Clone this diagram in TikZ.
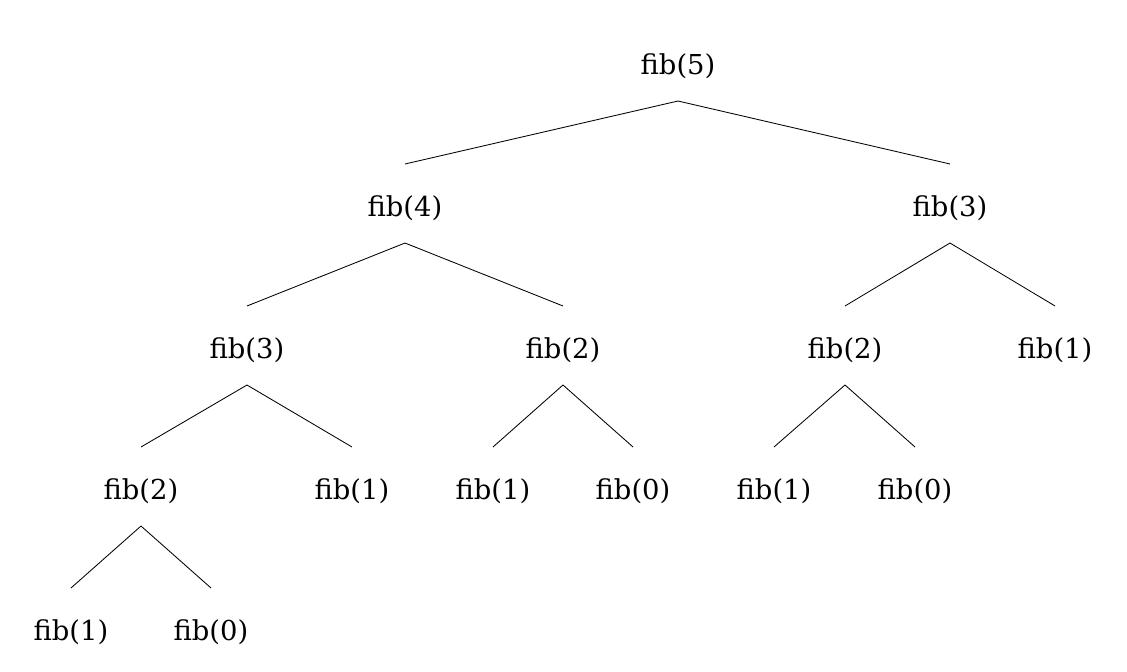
\documentclass[tikz,border=0pt]{standalone}
\usepackage{fontspec}
\setmainfont{DejaVu Serif}
\begin{document}
\begin{tikzpicture}[x=0.025cm,y=-0.025cm,
  call/.style={font=\fontsize{19.5}{23}\selectfont, inner sep=0pt},
  link/.style={line width=0.6pt}]
  \useasboundingbox (0,0) rectangle (1127,672);
  % Level 0
  \node[call] (r) at (678,66) {fib(5)};
  % Level 1
  \node[call] (a) at (405,208) {fib(4)};
  \node[call] (b) at (950,208) {fib(3)};
  % Level 2
  \node[call] (aa) at (247,350) {fib(3)};
  \node[call] (ab) at (563,350) {fib(2)};
  \node[call] (ba) at (845,350) {fib(2)};
  \node[call] (bb) at (1055,350) {fib(1)};
  % Level 3
  \node[call] (aaa) at (141,491) {fib(2)};
  \node[call] (aab) at (352,491) {fib(1)};
  \node[call] (aba) at (493,491) {fib(1)};
  \node[call] (abb) at (633,491) {fib(0)};
  \node[call] (baa) at (774,491) {fib(1)};
  \node[call] (bab) at (915,491) {fib(0)};
  % Level 4
  \node[call] (aaaa) at (71,632) {fib(1)};
  \node[call] (aaab) at (211,632) {fib(0)};
  % Edges
  \foreach \p/\c in {r/a,r/b,a/aa,a/ab,b/ba,b/bb,aa/aaa,aa/aab,ab/aba,ab/abb,
                     ba/baa,ba/bab,aaa/aaaa,aaa/aaab}
    \draw[link] ([yshift=-0.875cm]\p.center) -- ([yshift=1.1cm]\c.center);
\end{tikzpicture}
\end{document}
